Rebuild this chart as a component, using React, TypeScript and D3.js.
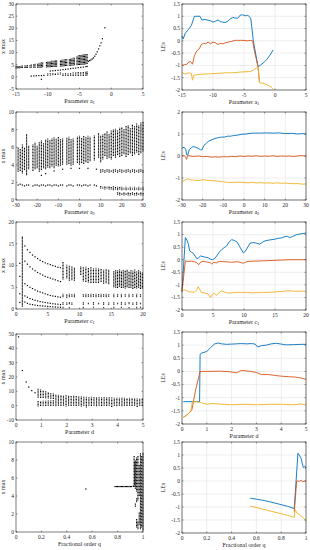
import React from 'react';
import * as d3 from 'd3';

// ---------------- tick labels ----------------
const xt1 = [-15, -10, -5, 0, 5];
const yt1L = [-5, 0, 5, 10, 15, 20, 25, 30];
const ytLE = [-2, -1.5, -1, -0.5, 0, 0.5, 1, 1.5];
const xt2 = [-30, -20, -10, 0, 10, 20, 30];
const yt2L = [0, 2, 4, 6, 8, 10];
const yt2R = [-2, -1, 0, 1, 2];
const xt3 = [0, 5, 10, 15, 20];
const yt3L = [0, 5, 10, 15, 20];
const xt4 = [0, 1, 2, 3, 4, 5];
const yt4L = [-10, 0, 10, 20, 30, 40, 50];
const xt5 = [0, 0.2, 0.4, 0.6, 0.8, 1];
const yt5L = [0, 2, 4, 6, 8, 10];

// ---------------- bifurcation data: [param, lo, hi] columns and [param, x] points ----------------
const bands1 = [
  [-15, 3.4, 4.4], [-14.8, 3.5, 4.5], [-14.6, 3.5, 4.4], [-14.4, 3.5, 4.5], [-14.2, 3.6, 4.6], [-14, 3.6, 4.7],
  [-13.6, 3.6, 4.8], [-13.4, 3.6, 4.9], [-13.2, 3.7, 4.8], [-12.8, 3.7, 5.0], [-12.6, 3.7, 5.2],
  [-12.2, 3.8, 5.3], [-12, 3.8, 5.4], [-11.6, 3.8, 5.6], [-11.4, 3.9, 5.7], [-11.2, 3.8, 5.8], [-11, 3.9, 5.9], [-10.8, 4.0, 6.0],
  [-10.2, 3.9, 6.2], [-10, 4.0, 6.3], [-9.8, 4.0, 6.4], [-9.6, 4.0, 6.5], [-9.4, 4.1, 6.6], [-9.2, 4.1, 6.6], [-9, 4.2, 6.7], [-8.8, 4.2, 6.8], [-8.6, 4.2, 6.8],
  [-8, 4.3, 6.9], [-7.8, 4.3, 7.0], [-7.6, 4.4, 7.0], [-7.4, 4.4, 7.1], [-7.2, 4.5, 7.2], [-7, 4.5, 7.2],
  [-6.6, 4.6, 7.4], [-6.4, 4.6, 7.5], [-6.2, 4.7, 7.7], [-6, 4.7, 7.9], [-5.8, 4.8, 8.0],
  [-5.4, 4.8, 8.6], [-5.2, 4.9, 8.8], [-5, 4.9, 8.9], [-4.8, 5.0, 9.0], [-4.6, 5.0, 9.2], [-4.4, 5.1, 9.3], [-4.2, 5.1, 9.4], [-4, 5.2, 9.5], [-3.8, 5.3, 9.6],
  [-10, 0.5, 1.4], [-9.6, 0.6, 1.5], [-9.2, 0.7, 1.6], [-8.8, 0.8, 1.6], [-8.4, 0.9, 1.7], [-8, 1.0, 1.8],
  [-7.6, 0.4, 1.4], [-7.2, 0.5, 1.5], [-6.8, 0.4, 1.6], [-6.4, 0.5, 1.7], [-6, 0.4, 1.8], [-5.6, 0.5, 1.9],
  [-5.2, 0.4, 2.0], [-4.8, 0.5, 2.0], [-4.4, 0.4, 2.1], [-4, 0.5, 2.2], [-3.8, 0.6, 2.2],
];
const pts1 = [
  [-12.6, 0.3], [-12.2, 0.4], [-11.8, 0.45], [-11.4, 0.5], [-11, 0.5], [-10.6, 0.6], [-11, -1.0],
  [-9.6, 2.4], [-9.2, 2.5], [-8.8, 2.6], [-8.4, 2.7], [-8, 2.8], [-7.6, 3.0], [-7.2, 3.1], [-6.8, 3.2], [-6.4, 3.4],
  [-6, 3.5], [-5.6, 3.6], [-5.2, 3.8], [-4.8, 3.9], [-4.4, 4.0], [-4, 4.2], [-3.8, 4.3],
  [-3.6, 6.4], [-3.4, 6.7], [-3.2, 7.0], [-3, 7.4], [-2.8, 7.8], [-2.6, 8.5], [-2.4, 9.3], [-2.2, 10.3],
  [-2.0, 11.5], [-1.8, 12.8], [-1.6, 14.0], [-1.4, 15.7], [-1.0, 20.2],
];

const bands2 = [
  [-29, 3.2, 6.0], [-28, 3.3, 5.8], [-27, 3.0, 6.3], [-26, 3.4, 6.0], [-25, 2.8, 7.5], [-24, 3.5, 6.2],
  [-22, 3.3, 6.3], [-21, 3.5, 6.5], [-20, 3.6, 6.2], [-19, 3.2, 6.6], [-18, 3.4, 6.8], [-17, 3.6, 6.5],
  [-16, 3.5, 6.9], [-15, 3.7, 7.0], [-14, 3.6, 6.8], [-13, 3.8, 7.0], [-12, 3.6, 7.1], [-11, 3.9, 7.0],
  [-10, 3.8, 7.2], [-9, 3.9, 6.9], [-8, 4.0, 7.0], [-6, 4.0, 7.1], [-5, 4.1, 7.2], [-4, 3.9, 6.9],
  [-3, 4.0, 7.0], [-1, 4.2, 7.2], [0, 4.0, 7.3], [1, 4.2, 7.1], [2, 4.1, 7.3], [3, 4.3, 7.2], [4, 4.2, 7.3],
  [5, 4.4, 7.2], [7, 4.5, 7.4], [9, 4.8, 7.6], [10, 4.3, 7.3], [11, 4.6, 7.5], [12, 5.0, 7.6], [13, 4.7, 7.8],
  [14, 4.8, 7.5], [15, 4.6, 7.9], [16, 5.0, 8.0], [17, 4.8, 8.1], [18, 5.1, 7.9], [19, 4.9, 8.2], [20, 5.0, 8.3],
  [21, 5.2, 8.1], [22, 4.9, 8.4], [23, 5.1, 8.5], [24, 5.3, 8.2], [25, 5.0, 8.6], [26, 5.2, 8.4], [27, 5.4, 8.7],
  [28, 5.1, 8.5], [29, 5.3, 8.8], [30, 5.5, 8.9],
  [10, 3.1, 3.5], [11, 3.2, 3.5], [12, 3.1, 3.4], [13, 3.2, 3.5], [14, 3.1, 3.5], [15, 3.2, 3.4], [16, 3.1, 3.5],
  [17, 3.2, 3.5], [18, 3.1, 3.4], [19, 3.2, 3.5], [20, 3.1, 3.5], [21, 3.2, 3.4], [22, 3.1, 3.5], [23, 3.2, 3.5],
  [24, 3.1, 3.4], [25, 3.2, 3.5], [26, 3.1, 3.5], [27, 3.2, 3.4], [28, 3.1, 3.5], [29, 3.2, 3.5], [30, 3.1, 3.4],
  [10, 1.3, 1.6], [11, 1.3, 1.5], [12, 1.2, 1.6], [13, 1.3, 1.5], [14, 1.2, 1.6], [15, 1.2, 1.5], [16, 1.1, 1.6],
  [17, 1.2, 1.5], [18, 1.1, 1.5], [19, 1.2, 1.5], [20, 1.1, 1.5], [21, 1.2, 1.4], [22, 1.1, 1.5], [23, 1.2, 1.4],
  [24, 1.1, 1.5], [25, 1.2, 1.4], [26, 1.1, 1.5], [27, 1.2, 1.4], [28, 1.1, 1.5], [29, 1.2, 1.4], [30, 1.1, 1.5],
  [18, 0.6, 0.9], [19, 0.5, 0.9], [20, 0.6, 0.8], [21, 0.5, 0.9], [22, 0.6, 0.8], [23, 0.5, 0.9], [24, 0.5, 0.8],
  [25, 0.6, 0.9], [26, 0.5, 0.8], [27, 0.5, 0.9], [28, 0.6, 0.8], [29, 0.5, 0.9], [30, 0.5, 0.8],
];
const pts2 = [
  [-29, 1.7], [-28, 1.8], [-27, 1.7], [-26, 1.6], [-25, 1.7], [-24, 1.7], [-22, 1.6], [-21, 1.7], [-20, 1.7],
  [-19, 1.6], [-18, 1.7], [-17, 1.7], [-16, 1.6], [-15, 1.7], [-14, 1.7], [-13, 1.6], [-12, 1.7], [-11, 1.7],
  [-10, 1.6], [-9, 1.7], [-8, 1.7], [-6, 1.6], [-5, 1.7], [-4, 1.7], [-3, 1.6], [-1, 1.7], [0, 1.7], [1, 1.6],
  [2, 1.7], [3, 1.7], [4, 1.6], [5, 1.7], [7, 1.7], [8, 1.6],
  [-18, 2.8], [-16, 3.0], [-12, 3.3], [-8, 3.5], [-4, 3.6], [0, 3.6], [4, 3.6], [8, 3.5],
];

const pts3 = [
  [1.0, 16.5], [1.4, 14.5], [1.8, 13.6], [2.2, 13.0], [2.6, 12.4], [3.0, 12.0], [3.4, 11.6], [3.8, 11.2], [4.2, 10.9],
  [4.6, 10.6], [5.0, 10.4], [5.4, 10.2], [5.8, 10.0], [6.2, 9.8], [6.6, 9.6], [7.0, 9.5],
  [1.4, 11.0], [1.8, 10.3], [2.2, 9.7], [2.6, 9.2], [3.0, 8.8], [3.4, 8.4], [3.8, 8.1], [4.2, 7.8], [4.6, 7.5],
  [5.0, 7.3], [5.4, 7.1], [5.8, 6.9], [6.2, 6.7], [6.6, 6.5], [7.0, 6.3],
  [1.4, 5.8], [1.8, 5.4], [2.2, 5.0], [2.6, 4.7], [3.0, 4.4], [3.4, 4.1], [3.8, 3.9], [4.2, 3.7], [4.6, 3.5],
  [5.0, 3.3], [5.4, 3.1], [5.8, 3.0], [6.2, 2.9], [6.6, 2.8], [7.0, 2.7],
  [1.4, 3.0], [1.8, 2.7], [2.2, 2.4], [2.6, 2.2], [3.0, 2.0], [3.4, 1.85], [3.8, 1.7], [4.2, 1.6], [4.6, 1.5],
  [5.0, 1.4], [5.4, 1.3], [5.8, 1.2], [6.2, 1.15], [6.6, 1.1], [7.0, 1.0],
  [1.4, 1.6], [1.8, 1.3], [2.2, 1.1], [2.6, 1.0], [3.0, 0.9], [3.4, 0.8], [3.8, 0.75], [4.2, 0.7], [4.6, 0.65],
  [5.0, 0.6], [5.4, 0.55], [5.8, 0.5], [6.2, 0.45], [6.6, 0.42], [7.0, 0.4],
  [0.6, 10.5], [0.6, 7.5], [0.6, 3.5], [0.6, 1.5],
];
const bands3 = [
  [1.0, 0.5, 16.3],
  [7.4, 6.8, 10.9], [8.0, 7.0, 10.2], [8.4, 6.5, 10.0], [8.8, 6.6, 9.8], [9.2, 6.5, 9.6], [10.2, 7.8, 9.9],
  [10.6, 6.3, 9.6], [11.0, 6.2, 9.7], [11.4, 6.1, 9.5], [11.8, 6.0, 9.6], [12.2, 6.0, 9.4], [12.6, 6.0, 9.5],
  [13.0, 6.0, 9.4], [13.4, 6.2, 9.3], [13.8, 5.8, 9.0], [14.2, 5.9, 9.2], [14.6, 5.7, 9.0],
  [15.4, 5.0, 8.8], [15.7, 4.9, 9.0], [16.0, 4.8, 8.9], [16.3, 5.1, 9.1], [16.6, 4.8, 8.8], [16.9, 4.9, 9.0],
  [17.2, 4.7, 8.9], [17.5, 5.0, 9.1], [17.8, 4.8, 8.7], [18.1, 4.9, 9.0], [18.4, 4.6, 8.8], [18.7, 4.8, 9.1],
  [19.0, 4.7, 8.6], [19.3, 4.9, 8.9], [19.6, 4.6, 8.7], [19.9, 4.7, 8.5],
  [7.4, 2.7, 3.5], [8.0, 2.6, 3.4], [8.4, 2.7, 3.5], [8.8, 2.8, 3.4], [9.2, 2.7, 3.5], [10.6, 2.8, 3.4], [11.0, 2.7, 3.5],
  [11.4, 2.8, 3.4], [11.8, 2.7, 3.5], [12.2, 2.8, 3.4], [12.6, 2.7, 3.5], [13.0, 2.8, 3.4], [13.4, 2.7, 3.5],
  [13.8, 2.8, 3.4], [14.2, 2.7, 3.5], [14.6, 2.8, 3.4], [15.4, 2.7, 3.5], [16.0, 2.8, 3.4], [16.6, 2.7, 3.5],
  [17.2, 2.8, 3.4], [17.8, 2.7, 3.5], [18.4, 2.8, 3.4], [19.0, 2.7, 3.5], [19.6, 2.8, 3.4],
  [7.4, 1.0, 1.6], [8.0, 1.0, 1.5], [8.4, 1.1, 1.6], [8.8, 1.0, 1.5], [10.6, 1.0, 1.6], [11.4, 1.1, 1.5],
  [12.2, 1.0, 1.6], [13.0, 1.1, 1.5], [13.8, 1.0, 1.6], [14.6, 1.0, 1.5], [15.4, 1.0, 1.6], [16.0, 1.1, 1.5],
  [16.6, 1.0, 1.6], [17.2, 1.0, 1.5], [17.8, 1.1, 1.6], [18.4, 1.0, 1.5], [19.0, 1.0, 1.6], [19.6, 1.1, 1.5],
  [7.4, 0.2, 0.6], [8.4, 0.2, 0.5], [10.6, 0.2, 0.6], [12.2, 0.3, 0.6], [13.8, 0.2, 0.5], [15.4, 0.2, 0.6],
  [16.6, 0.3, 0.6], [17.8, 0.2, 0.5], [19.0, 0.2, 0.6], [19.6, 0.3, 0.6],
];

const pts4 = [[0.1, 48], [0.25, 24.5], [0.4, 16.5], [0.5, 13], [0.62, 10.5], [0.75, 9]];
const bands4 = [
  [0.87, 5.5, 12.0], [0.87, -0.5, 3.3], [0.97, 5.4, 11.5], [0.97, -0.3, 3.2], [1.07, 5.3, 10.8], [1.07, 0.0, 3.4],
  [1.17, 5.2, 10.2], [1.17, -0.2, 3.5], [1.27, 5.0, 9.6], [1.27, 0.0, 3.6], [1.37, 4.8, 9.0], [1.37, -0.3, 3.8],
  [1.47, 4.6, 8.5], [1.47, 0.0, 4.0],
  [1.57, -0.4, 8.0], [1.67, 0.0, 7.7], [1.77, -0.2, 7.5], [1.87, 0.0, 7.3], [1.97, -0.5, 7.2], [2.07, 0.0, 7.0],
  [2.17, -0.3, 7.0], [2.27, 0.0, 6.9], [2.37, -0.2, 6.8], [2.47, 0.0, 6.6], [2.57, -0.6, 6.5], [2.67, 0.0, 6.4],
  [2.77, -1.2, 6.3], [2.87, 0.0, 6.3], [2.97, -0.3, 6.2], [3.07, 0.0, 6.1], [3.17, -0.4, 6.0], [3.27, 0.0, 6.0],
  [3.37, -0.2, 5.9], [3.47, 0.0, 5.9], [3.57, -0.3, 5.8], [3.67, 0.0, 5.8], [3.77, -1.0, 5.7], [3.87, 0.0, 5.6],
  [3.97, -0.2, 5.6], [4.07, 0.0, 5.5], [4.17, -0.4, 5.5], [4.27, 0.0, 5.5], [4.37, -0.2, 5.4], [4.47, 0.0, 5.6],
  [4.57, -0.3, 5.3], [4.67, 0.0, 5.4], [4.77, -1.0, 5.3], [4.87, 0.0, 5.2], [4.97, -0.3, 5.3],
];

const pts5 = [
  [0.55, 4.78], [0.78, 5.05], [0.79, 5.05], [0.8, 5.05], [0.81, 5.05], [0.82, 5.05], [0.83, 5.05], [0.84, 5.05],
  [0.85, 5.05], [0.86, 5.05], [0.87, 5.05], [0.88, 5.05], [0.89, 5.05], [0.9, 5.05], [0.91, 5.05], [0.925, 5.1],
];
const bands5 = [
  [0.93, 5.0, 8.5], [0.935, 5.2, 7.8], [0.94, 4.8, 8.0], [0.94, 2.8, 3.2], [0.95, 4.5, 8.3], [0.95, 3.3, 3.8],
  [0.95, 0.5, 1.5], [0.96, 3.5, 8.5], [0.96, 0.3, 1.2], [0.97, 4.0, 7.5], [0.97, 0.8, 2.2], [0.98, 0.3, 8.8],
  [0.99, 0.5, 8.5], [1.0, 0.2, 8.8],
];

// ---------------- Lyapunov exponent data [param, LE] ----------------
const le1Blue = [[-15, 0.2], [-14.8, 0.08], [-14.5, 0.3], [-14, 0.45], [-13.5, 0.62], [-13.2, 0.85], [-13, 1.0], [-12.5, 1.0], [-12.1, 1.0], [-11.8, 0.85], [-11.3, 0.87], [-10.8, 0.84], [-10.4, 0.82], [-10, 0.76], [-9.6, 0.8], [-9.2, 0.85], [-8.8, 0.78], [-8.4, 0.76], [-8, 0.75], [-7.6, 0.8], [-7.2, 0.9], [-6.8, 0.95], [-6.4, 0.93], [-6, 0.92], [-5.6, 1.05], [-5.2, 1.06], [-4.8, 1.02], [-4.4, 1.04], [-4.1, 0.98], [-3.9, 0.9], [-3.76, 0.6], [-3.5, 0.0], [-2.74, -1.05], [-2.3, -0.98], [-1.8, -0.88], [-1.3, -0.75], [-0.8, -0.58], [-0.3, -0.37]];
const le1Orange = [[-15, -1.0], [-14.6, -0.97], [-14.2, -0.95], [-13.9, -0.85], [-13.6, -0.85], [-13.3, -0.95], [-13, -0.6], [-12.6, -0.4], [-12.2, -0.32], [-11.9, -0.15], [-11.5, -0.1], [-11.2, -0.12], [-10.8, -0.05], [-10.4, -0.12], [-10, -0.05], [-9.6, -0.08], [-9.2, -0.15], [-8.8, -0.1], [-8.4, -0.12], [-8, -0.08], [-7.5, -0.05], [-7, -0.02], [-6.5, 0.02], [-6, 0.02], [-5.5, 0.02], [-5, 0.02], [-4.5, 0.0], [-4, 0.02], [-3.6, 0.0], [-3.3, -0.45], [-3.0, -0.75], [-2.74, -1.05], [-2.5, -1.68]];
const le1Yellow = [[-15, -1.28], [-14.6, -1.35], [-14.2, -1.32], [-13.8, -1.3], [-13.5, -1.33], [-13.3, -1.6], [-13.1, -1.4], [-12.6, -1.38], [-12, -1.36], [-11, -1.35], [-10, -1.33], [-9, -1.32], [-8, -1.3], [-7, -1.3], [-6, -1.28], [-5, -1.26], [-4, -1.25], [-3.5, -1.2], [-3, -1.1], [-2.74, -1.05], [-2.5, -1.7], [-2, -1.72], [-1.5, -1.76], [-1, -1.82], [-0.5, -1.9], [-0.3, -1.97]];

const le2Blue = [[-30, 0.35], [-29, 0.4], [-28.2, 0.3], [-27.7, 0.05], [-27.2, 0.05], [-26.5, 0.28], [-25.5, 0.38], [-24.6, 0.43], [-23.5, 0.4], [-22.2, 0.35], [-21, 0.28], [-20.4, 0.28], [-19.4, 0.48], [-18, 0.6], [-17, 0.68], [-15.5, 0.74], [-14, 0.8], [-12.5, 0.83], [-11, 0.86], [-9.5, 0.86], [-8, 0.9], [-6.5, 0.9], [-5, 0.93], [-3, 0.95], [-1, 0.99], [1, 1.0], [3, 1.03], [5, 1.04], [8, 1.04], [11, 1.05], [14, 1.04], [17, 1.05], [20, 1.02], [23, 1.03], [26, 1.0], [28, 1.02], [30, 1.0]];
const le2Orange = [[-30, 0.0], [-29, 0.02], [-28.3, -0.03], [-27.8, -0.15], [-27.3, 0.02], [-26, 0.0], [-24, -0.02], [-22, 0.0], [-20, -0.03], [-18, -0.02], [-16, -0.05], [-14, -0.04], [-12, -0.05], [-10, -0.03], [-8, -0.04], [-6, -0.02], [-4, -0.03], [-2, 0.0], [0, -0.02], [2, 0.0], [4, -0.01], [6, 0.01], [8, -0.02], [10, 0.0], [12, -0.01], [14, 0.01], [16, -0.02], [18, 0.0], [20, -0.01], [22, 0.0], [24, -0.02], [26, 0.0], [28, 0.02], [30, -0.01]];
const le2Yellow = [[-30, -1.16], [-29, -1.12], [-28, -1.06], [-27, -1.04], [-26, -1.08], [-24, -1.1], [-22, -1.12], [-20, -1.08], [-18, -1.1], [-16, -1.12], [-14, -1.13], [-12, -1.15], [-10, -1.17], [-8, -1.2], [-6, -1.2], [-4, -1.2], [-2, -1.19], [0, -1.2], [2, -1.22], [4, -1.2], [6, -1.22], [8, -1.21], [10, -1.23], [12, -1.22], [14, -1.24], [16, -1.22], [18, -1.24], [20, -1.23], [22, -1.25], [24, -1.26], [26, -1.25], [28, -1.28], [30, -1.27]];

const le3Blue = [[0, -1.27], [0.54, 0.88], [0.8, 0.78], [1.0, 0.65], [1.24, 0.35], [1.5, 0.3], [1.8, 0.26], [2.1, 0.15], [2.4, 0.04], [2.7, 0.08], [3.0, 0.15], [3.4, 0.12], [3.8, 0.1], [4.2, 0.08], [4.6, 0.02], [4.9, 0.0], [5.3, 0.06], [5.6, 0.15], [6.0, 0.3], [6.4, 0.4], [6.8, 0.48], [7.2, 0.55], [7.6, 0.7], [8.0, 0.8], [8.5, 0.76], [8.9, 0.7], [9.3, 0.52], [9.7, 0.35], [9.9, 0.27], [10.2, 0.33], [10.6, 0.5], [11.0, 0.66], [11.5, 0.68], [12.0, 0.66], [12.5, 0.62], [13.0, 0.7], [13.4, 0.75], [14.0, 0.78], [14.5, 0.8], [15.0, 0.82], [15.5, 0.85], [16.1, 0.87], [16.6, 0.92], [17.0, 0.93], [17.4, 0.88], [17.8, 0.92], [18.5, 1.0], [19.2, 1.03], [20, 1.06]];
const le3Orange = [[0, -1.27], [0.54, -0.05], [1.0, -0.07], [1.5, -0.06], [2.0, -0.08], [2.4, -0.12], [2.7, -0.2], [3.0, -0.1], [3.4, -0.06], [3.8, -0.08], [4.2, -0.1], [4.6, -0.12], [4.8, -0.18], [5.1, -0.1], [5.5, -0.13], [6.0, -0.07], [7.0, -0.08], [8.0, -0.1], [9.0, -0.08], [9.9, -0.14], [10.5, -0.07], [11.5, -0.06], [12.5, -0.05], [13.5, -0.04], [14.5, -0.03], [15.5, -0.02], [16.5, -0.01], [17.5, 0.0], [18.5, 0.0], [19.5, 0.0], [20, 0.0]];
const le3Yellow = [[0, -1.2], [0.5, -1.2], [1.0, -1.27], [1.5, -1.28], [2.0, -1.3], [2.4, -1.2], [2.6, -1.07], [2.9, -1.2], [3.1, -1.3], [3.6, -1.32], [4.2, -1.36], [4.6, -1.5], [4.9, -1.38], [5.2, -1.33], [5.6, -1.42], [6.0, -1.3], [6.4, -1.24], [7.0, -1.3], [7.5, -1.33], [8.5, -1.3], [9.6, -1.3], [10.5, -1.3], [11.5, -1.32], [12.5, -1.3], [13.5, -1.3], [14.5, -1.29], [15.5, -1.27], [16.5, -1.25], [17.5, -1.24], [18.5, -1.26], [19.5, -1.25], [20, -1.27]];

const le4Blue = [[0.05, -1.15], [0.71, -1.15], [0.73, 0.65], [0.8, 0.7], [1.0, 0.76], [1.15, 0.9], [1.3, 1.04], [1.45, 1.08], [1.6, 1.05], [1.8, 1.03], [2.0, 1.04], [2.2, 1.05], [2.4, 1.06], [2.6, 1.05], [2.8, 1.06], [2.95, 1.04], [3.05, 0.93], [3.2, 0.98], [3.4, 1.0], [3.6, 1.05], [3.8, 1.07], [4.0, 1.04], [4.2, 1.01], [4.5, 1.02], [4.8, 1.03], [5.0, 1.03]];
const le4Orange = [[0.05, -1.75], [0.25, -1.62], [0.4, -1.45], [0.55, -0.7], [0.73, 0.0], [1.0, 0.0], [1.5, 0.01], [1.9, -0.01], [2.2, -0.05], [2.4, 0.04], [2.7, 0.01], [3.0, -0.04], [3.2, -0.12], [3.5, -0.12], [3.8, -0.16], [4.0, -0.18], [4.3, -0.2], [4.6, -0.22], [4.8, -0.25], [5.0, -0.3]];
const le4Yellow = [[0.05, -1.75], [0.2, -1.66], [0.35, -1.52], [0.42, -1.15], [0.6, -1.15], [0.8, -1.2], [1.0, -1.25], [1.2, -1.22], [1.5, -1.24], [2.0, -1.27], [2.5, -1.25], [3.0, -1.27], [3.5, -1.25], [4.0, -1.25], [4.5, -1.27], [4.8, -1.24], [5.0, -1.27]];

const le5Blue = [[0.55, -0.66], [0.6, -0.7], [0.65, -0.74], [0.7, -0.79], [0.75, -0.85], [0.8, -0.91], [0.85, -0.97], [0.905, -1.06], [0.935, 1.07], [0.96, 0.88], [0.978, 0.52], [0.99, 0.57], [1.0, 0.5]];
const le5Orange = [[0.905, -1.2], [0.925, 0.0], [0.94, 0.0], [0.95, -0.01], [0.96, 0.03], [0.975, -0.03], [0.99, 0.0], [1.0, 0.0]];
const le5Yellow = [[0.55, -0.97], [0.6, -1.02], [0.65, -1.08], [0.7, -1.14], [0.75, -1.2], [0.8, -1.26], [0.85, -1.32], [0.905, -1.4], [0.912, -1.1], [0.93, -1.25], [0.95, -1.3], [0.97, -1.38], [0.99, -1.47], [1.0, -1.55]];

// ---------------- styling ----------------
const AX = '#262626';
const GRID = '#e2e2e2';
const BLUE = '#0072BD';
const ORANGE = '#D95319';
const YELLOW = '#EDB120';
const FONT = '"Liberation Serif", "DejaVu Serif", serif';
const TICK_FS = 5.5;
const LAB_FS = 6;

type Rect = { x: number; y: number; w: number; h: number };
type Cfg = {
  r: Rect; xd: [number, number]; yd: [number, number]; xt: number[]; yt: number[];
  grid: boolean; xlabel: string; xsub?: string; ylabel: string; ylx: number;
};

function Axes({ c, children }: { c: Cfg; children: (xs: any, ys: any) => React.ReactNode }) {
  const { r } = c;
  const xs = d3.scaleLinear().domain(c.xd).range([r.x, r.x + r.w]);
  const ys = d3.scaleLinear().domain(c.yd).range([r.y + r.h, r.y]);
  const tl = 1.4;
  return (
    <g>
      <rect x={r.x} y={r.y} width={r.w} height={r.h} fill="#fff" />
      {c.grid && c.xt.map((t, i) => (
        <line key={'gx' + i} x1={xs(t)} x2={xs(t)} y1={r.y} y2={r.y + r.h} stroke={GRID} strokeWidth={0.6} />
      ))}
      {c.grid && c.yt.map((t, i) => (
        <line key={'gy' + i} x1={r.x} x2={r.x + r.w} y1={ys(t)} y2={ys(t)} stroke={GRID} strokeWidth={0.6} />
      ))}
      {children(xs, ys)}
      <rect x={r.x} y={r.y} width={r.w} height={r.h} fill="none" stroke={AX} strokeWidth={0.6} />
      {c.xt.map((t, i) => (
        <g key={'tx' + i}>
          <line x1={xs(t)} x2={xs(t)} y1={r.y + r.h} y2={r.y + r.h - tl} stroke={AX} strokeWidth={0.5} />
          <line x1={xs(t)} x2={xs(t)} y1={r.y} y2={r.y + tl} stroke={AX} strokeWidth={0.5} />
          <text x={xs(t)} y={r.y + r.h + 7.2} fontSize={TICK_FS} fontFamily={FONT} textAnchor="middle" fill={AX}>{String(t)}</text>
        </g>
      ))}
      {c.yt.map((t, i) => (
        <g key={'ty' + i}>
          <line x1={r.x} x2={r.x + tl} y1={ys(t)} y2={ys(t)} stroke={AX} strokeWidth={0.5} />
          <line x1={r.x + r.w} x2={r.x + r.w - tl} y1={ys(t)} y2={ys(t)} stroke={AX} strokeWidth={0.5} />
          <text x={r.x - 2} y={ys(t) + 1.9} fontSize={TICK_FS} fontFamily={FONT} textAnchor="end" fill={AX}>{String(t)}</text>
        </g>
      ))}
      <text x={r.x + r.w / 2} y={r.y + r.h + 13.5} fontSize={LAB_FS} fontFamily={FONT} textAnchor="middle" fill={AX}>
        {c.xlabel}
        {c.xsub ? <tspan fontSize={4.5} dy={1.6}>{c.xsub}</tspan> : null}
      </text>
      <text transform={`translate(${c.ylx},${r.y + r.h / 2}) rotate(-90)`} fontSize={LAB_FS} fontFamily={FONT} textAnchor="middle" fill={AX}>
        {c.ylabel}
      </text>
    </g>
  );
}

function Bif({ c, bands, pts }: { c: Cfg; bands: number[][]; pts: number[][] }) {
  return (
    <Axes c={c}>
      {(xs, ys) => (
        <g>
          {bands.map((b, i) => (
            <line key={'b' + i} x1={xs(b[0])} x2={xs(b[0])} y1={ys(b[1])} y2={ys(b[2])}
              stroke="#000" strokeWidth={1.15} strokeDasharray="1 0.5" />
          ))}
          {pts.map((p, i) => (
            <rect key={'p' + i} x={xs(p[0]) - 0.6} y={ys(p[1]) - 0.6} width={1.2} height={1.2} fill="#000" />
          ))}
        </g>
      )}
    </Axes>
  );
}

function LE({ c, blue, orange, yellow }: { c: Cfg; blue: number[][]; orange: number[][]; yellow: number[][] }) {
  return (
    <Axes c={c}>
      {(xs, ys) => {
        const line = d3.line<number[]>().x((d) => xs(d[0])).y((d) => ys(d[1]));
        return (
          <g>
            <path d={line(blue) || ''} fill="none" stroke={BLUE} strokeWidth={0.9} />
            <path d={line(orange) || ''} fill="none" stroke={ORANGE} strokeWidth={0.9} />
            <path d={line(yellow) || ''} fill="none" stroke={YELLOW} strokeWidth={0.9} />
          </g>
        );
      }}
    </Axes>
  );
}

const LX = 16, LW = 127, RX = 182, RW = 124;
const LYL = 5, RYL = 165;

export default function App() {
  const cfgs: Cfg[] = [
    { r: { x: LX, y: 4, w: LW, h: 85 }, xd: [-15, 5], yd: [-5, 30], xt: xt1, yt: yt1L, grid: false, xlabel: 'Parameter a', xsub: '1', ylabel: 'x max', ylx: LYL },
    { r: { x: RX, y: 4, w: RW, h: 86 }, xd: [-15, 5], yd: [-2, 1.5], xt: xt1, yt: ytLE, grid: true, xlabel: 'Parameter a', xsub: '1', ylabel: 'LEs', ylx: RYL },
    { r: { x: LX, y: 112, w: LW, h: 88 }, xd: [-30, 30], yd: [0, 10], xt: xt2, yt: yt2L, grid: false, xlabel: 'Parameter a', xsub: '2', ylabel: 'x max', ylx: LYL },
    { r: { x: RX, y: 112, w: RW, h: 88 }, xd: [-30, 30], yd: [-2, 2], xt: xt2, yt: yt2R, grid: true, xlabel: 'Parameter a', xsub: '2', ylabel: 'LEs', ylx: RYL },
    { r: { x: LX, y: 222, w: LW, h: 87 }, xd: [0, 20], yd: [0, 20], xt: xt3, yt: yt3L, grid: false, xlabel: 'Parameter c', xsub: '1', ylabel: 'x max', ylx: LYL },
    { r: { x: RX, y: 222, w: RW, h: 88 }, xd: [0, 20], yd: [-2, 1.5], xt: xt3, yt: ytLE, grid: true, xlabel: 'Parameter c', xsub: '1', ylabel: 'LEs', ylx: RYL },
    { r: { x: LX, y: 334, w: LW, h: 86 }, xd: [0, 5], yd: [-10, 50], xt: xt4, yt: yt4L, grid: false, xlabel: 'Parameter d', ylabel: 'x max', ylx: LYL },
    { r: { x: RX, y: 332, w: RW, h: 92 }, xd: [0, 5], yd: [-2, 1.5], xt: xt4, yt: ytLE, grid: true, xlabel: 'Parameter d', ylabel: 'LEs', ylx: RYL },
    { r: { x: LX, y: 442, w: LW, h: 90 }, xd: [0, 1], yd: [0, 10], xt: xt5, yt: yt5L, grid: false, xlabel: 'Fractional order q', ylabel: 'x max', ylx: LYL },
    { r: { x: RX, y: 442, w: RW, h: 91 }, xd: [0, 1], yd: [-2, 1.5], xt: xt5, yt: ytLE, grid: true, xlabel: 'Fractional order q', ylabel: 'LEs', ylx: RYL },
  ];
  return (
    <svg width={310} height={550} style={{ position: 'absolute', left: 0, top: 0, background: '#fff' }}>
      <Bif c={cfgs[0]} bands={bands1} pts={pts1} />
      <LE c={cfgs[1]} blue={le1Blue} orange={le1Orange} yellow={le1Yellow} />
      <Bif c={cfgs[2]} bands={bands2} pts={pts2} />
      <LE c={cfgs[3]} blue={le2Blue} orange={le2Orange} yellow={le2Yellow} />
      <Bif c={cfgs[4]} bands={bands3} pts={pts3} />
      <LE c={cfgs[5]} blue={le3Blue} orange={le3Orange} yellow={le3Yellow} />
      <Bif c={cfgs[6]} bands={bands4} pts={pts4} />
      <LE c={cfgs[7]} blue={le4Blue} orange={le4Orange} yellow={le4Yellow} />
      <Bif c={cfgs[8]} bands={bands5} pts={pts5} />
      <LE c={cfgs[9]} blue={le5Blue} orange={le5Orange} yellow={le5Yellow} />
    </svg>
  );
}
